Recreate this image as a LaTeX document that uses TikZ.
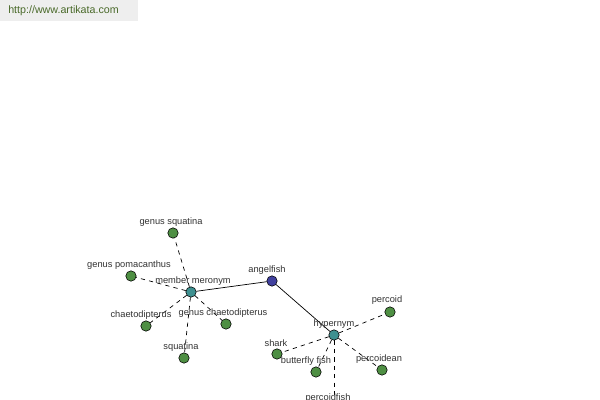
\documentclass[tikz,border=0pt]{standalone}
\usepackage{fontspec}
\setmainfont{Liberation Sans}
\definecolor{leafc}{HTML}{4E8F43}
\definecolor{hubc}{HTML}{3E9090}
\definecolor{rootc}{HTML}{40409E}
\definecolor{lblc}{HTML}{333333}
\definecolor{hdrbg}{HTML}{EEEEEE}
\definecolor{hdrtx}{HTML}{4A6A2A}
\begin{document}
\begin{tikzpicture}[x=0.025cm,y=-0.025cm,
  dot/.style={circle,draw=black,line width=0.4pt,inner sep=0pt,minimum size=0.26cm},
  leaf/.style={dot,fill=leafc},
  hub/.style={dot,fill=hubc},
  root/.style={dot,fill=rootc},
  lbl/.style={font=\fontsize{6.6}{7}\selectfont,text=lblc,inner sep=0.5pt},
  solidedge/.style={draw=black,line width=0.5pt},
  dashedge/.style={draw=black,line width=0.5pt,dash pattern=on 3pt off 3pt}]
\useasboundingbox (0,0) rectangle (600,400);
\fill[white] (0,0) rectangle (600,400);
\node[fill=hdrbg,minimum width=138*0.025cm,minimum height=21*0.025cm,anchor=north west,inner sep=0pt] (hdr) at (0,0) {};
\node[anchor=west,font=\fontsize{7.6}{9}\selectfont,text=hdrtx,inner sep=0pt] (hdrtext) at (8,11) {http://www.artikata.com};

\node[root] (angelfish) at (272,281) {};
\node[hub] (meronym) at (191,292) {};
\node[hub] (hypernym) at (334,335) {};
\node[leaf] (gsquatina) at (173,233) {};
\node[leaf] (gpomacanthus) at (131,276) {};
\node[leaf] (chaeto) at (146,326) {};
\node[leaf] (gchaeto) at (226,324) {};
\node[leaf] (squatina) at (184,358) {};
\node[leaf] (percoid) at (390,312) {};
\node[leaf] (shark) at (277,354) {};
\node[leaf] (butterfly) at (316,372) {};
\node[leaf] (percoidean) at (382,370) {};
\node[leaf] (percoidfish) at (334,412) {};

\draw[solidedge] (angelfish) -- (meronym);
\draw[solidedge] (angelfish) -- (hypernym);
\foreach \t in {gsquatina,gpomacanthus,chaeto,gchaeto,squatina}
  \draw[dashedge] (meronym) -- (\t);
\foreach \t in {percoid,shark,butterfly,percoidean,percoidfish}
  \draw[dashedge] (hypernym) -- (\t);

\node[lbl] (l1) at (267,270) {angelfish};
\node[lbl] (l2) at (193,281) {member meronym};
\node[lbl] (l3) at (334,324) {hypernym};
\node[lbl] (l4) at (171,222) {genus squatina};
\node[lbl] (l5) at (129,265) {genus pomacanthus};
\node[lbl] (l6) at (141,315) {chaetodipterus};
\node[lbl] (l7) at (223,313) {genus chaetodipterus};
\node[lbl] (l8) at (181,347) {squatina};
\node[lbl] (l9) at (387,300) {percoid};
\node[lbl] (l10) at (276,343) {shark};
\node[lbl] (l11) at (306,361) {butterfly fish};
\node[lbl] (l12) at (379,359) {percoidean};
\node[lbl] (l13) at (328,398) {percoidfish};
\end{tikzpicture}
\end{document}
